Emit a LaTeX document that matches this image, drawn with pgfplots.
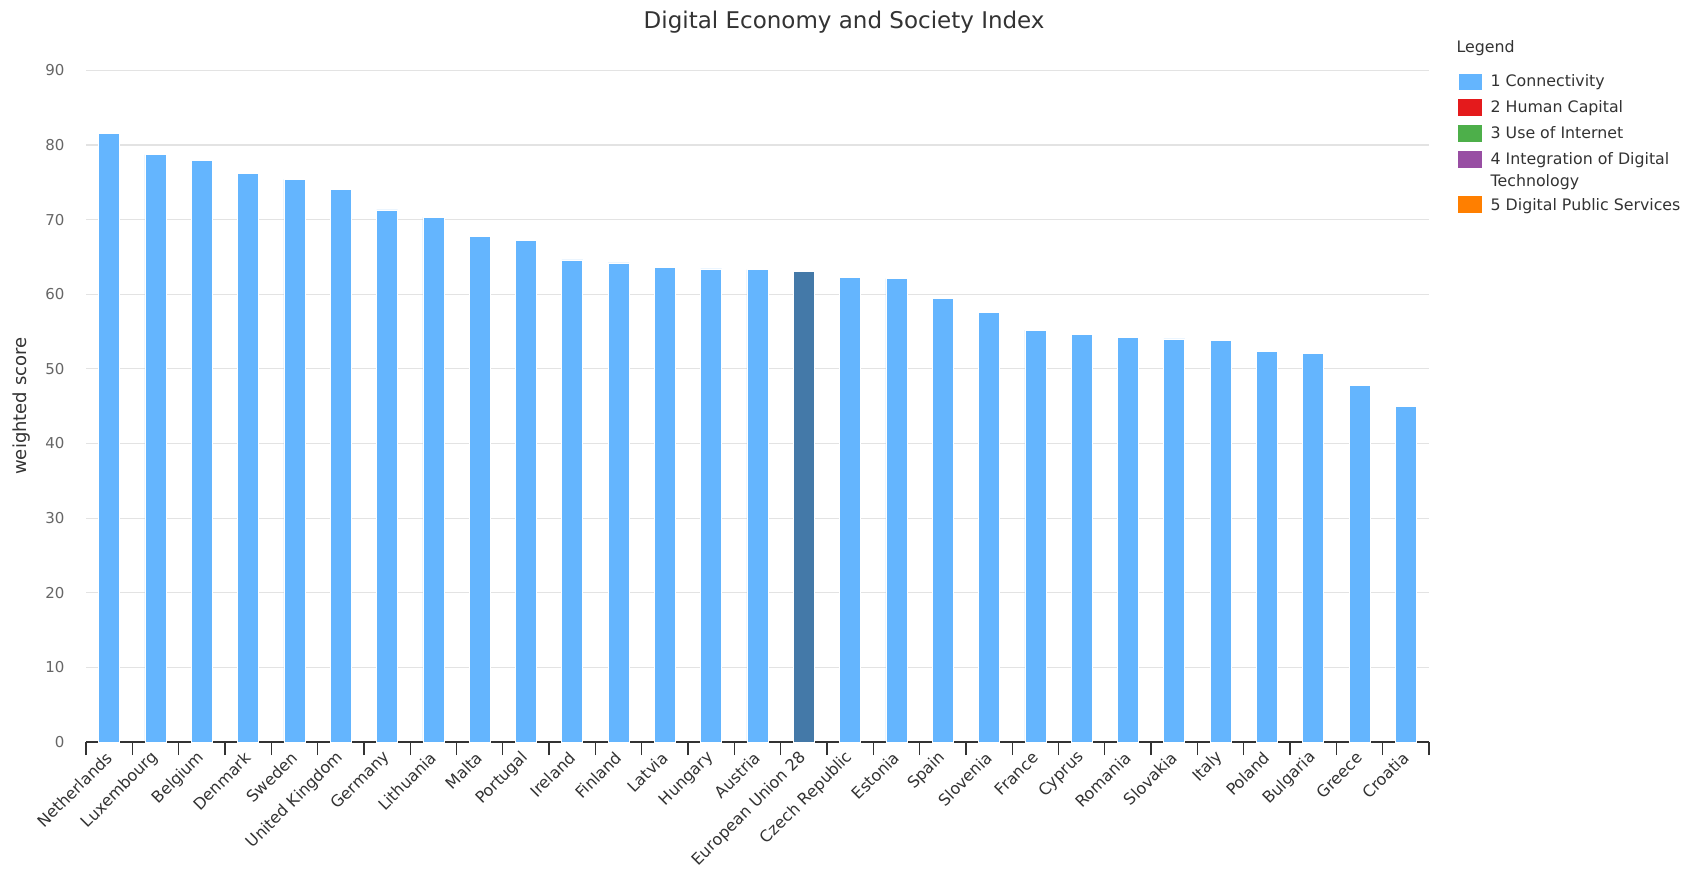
\documentclass[border=0pt]{standalone}
\usepackage{pgfplots}
\pgfplotsset{compat=1.18}
\usepackage{fontspec}
\setmainfont{DejaVu Sans}
\definecolor{barblue}{HTML}{64B5FE}
\definecolor{eublue}{HTML}{4479A8}
\definecolor{txt}{HTML}{333333}
\definecolor{ticktxt}{HTML}{666666}
\definecolor{gridc}{HTML}{E3E3E3}
\definecolor{hcred}{HTML}{E41A1C}
\definecolor{hcgreen}{HTML}{4DAF4A}
\definecolor{hcpurple}{HTML}{984EA3}
\definecolor{hcorange}{HTML}{FF7F00}

\pgfplotstableread{
x y
0 81.5
1 78.7
2 77.9
3 76.2
4 75.4
5 74.0
6 71.3
7 70.3
8 67.7
9 67.2
10 64.6
11 64.2
12 63.6
13 63.4
14 63.3
16 62.3
17 62.1
18 59.4
19 57.6
20 55.2
21 54.6
22 54.2
23 54.0
24 53.8
25 52.3
26 52.1
27 47.8
28 45.0
}\connectivity
\pgfplotstableread{
x y
15 63.1
}\euavg

\begin{document}
\begin{tikzpicture}[x=1pt,y=1pt]
\fill[white] (0,0) rectangle (1696,878);
\begin{axis}[
  at={(86pt,136pt)}, anchor=south west,
  scale only axis, width=1343pt, height=671.7pt,
  xmin=-0.5, xmax=28.5, ymin=0, ymax=90,
  clip mode=individual,
  ybar, bar width=21pt, bar shift=0pt,
  axis x line*=bottom, axis y line*=left,
  y axis line style={draw=none},
  x axis line style={draw=txt, line width=1.3pt, -},
  xtick={0,...,28},
  xticklabels={Netherlands,Luxembourg,Belgium,Denmark,Sweden,United Kingdom,Germany,Lithuania,Malta,Portugal,Ireland,Finland,Latvia,Hungary,Austria,European Union 28,Czech Republic,Estonia,Spain,Slovenia,France,Cyprus,Romania,Slovakia,Italy,Poland,Bulgaria,Greece,Croatia},
  minor xtick={-0.5,0.5,...,28.5},
  ytick={0,10,...,90},
  ymajorgrids, grid style={gridc, line width=1.2pt},
  tick align=outside,
  major tick length=0pt,
  minor tick length=13pt,
  minor x tick style={draw=txt, line width=1.3pt},
  major y tick style={draw=none},
  xticklabel style={xshift=2.4pt, yshift=-10.4pt, rotate=45, anchor=east, font=\fontsize{16}{18}\selectfont, text=txt},
  yticklabel style={font=\fontsize{15}{17}\selectfont, text=ticktxt, xshift=-18pt},
  /pgf/number format/assume math mode=true,
  ylabel={weighted score},
  ylabel style={at={(axis description cs:-0.048,0.5)}, anchor=center, font=\fontsize{18}{20}\selectfont, text=txt},
  title={Digital Economy and Society Index},
  title style={at={(axis description cs:0.5645,1.0625)}, anchor=base, inner sep=0pt, yshift=-6pt, font=\fontsize{23}{26}\selectfont, text=txt},
  legend style={at={(axis description cs:1.0215,0.997)}, anchor=north west, draw=none, fill=none, inner sep=0pt, column sep=8pt, row sep=8.8pt, font=\fontsize{15.8}{21.6}\selectfont, text=txt, nodes={inner sep=0pt, align=left}, cells={anchor=base west}},
  legend image code/.code={\fill[#1] (0pt,-3pt) rectangle (24pt,14pt);},
]
\addplot[fill=barblue, draw=white, line width=0.6pt] table[x=x,y=y] {\connectivity};
\addlegendentry{1 Connectivity}
\addplot[fill=eublue, draw=white, line width=0.6pt, forget plot] table[x=x,y=y] {\euavg};
\addlegendimage{fill=hcred, draw=none}
\addlegendentry{2 Human Capital}
\addlegendimage{fill=hcgreen, draw=none}
\addlegendentry{3 Use of Internet}
\addlegendimage{fill=hcpurple, draw=none, yshift=21.6pt}
\addlegendentry{4 Integration of Digital\\Technology}
\addlegendimage{fill=hcorange, draw=none}
\addlegendentry{5 Digital Public Services}
\node[anchor=base west, font=\fontsize{15.8}{19}\selectfont, text=txt, inner sep=0pt] at (axis description cs:1.0205,1.026) {Legend};
\end{axis}
\end{tikzpicture}
\end{document}
